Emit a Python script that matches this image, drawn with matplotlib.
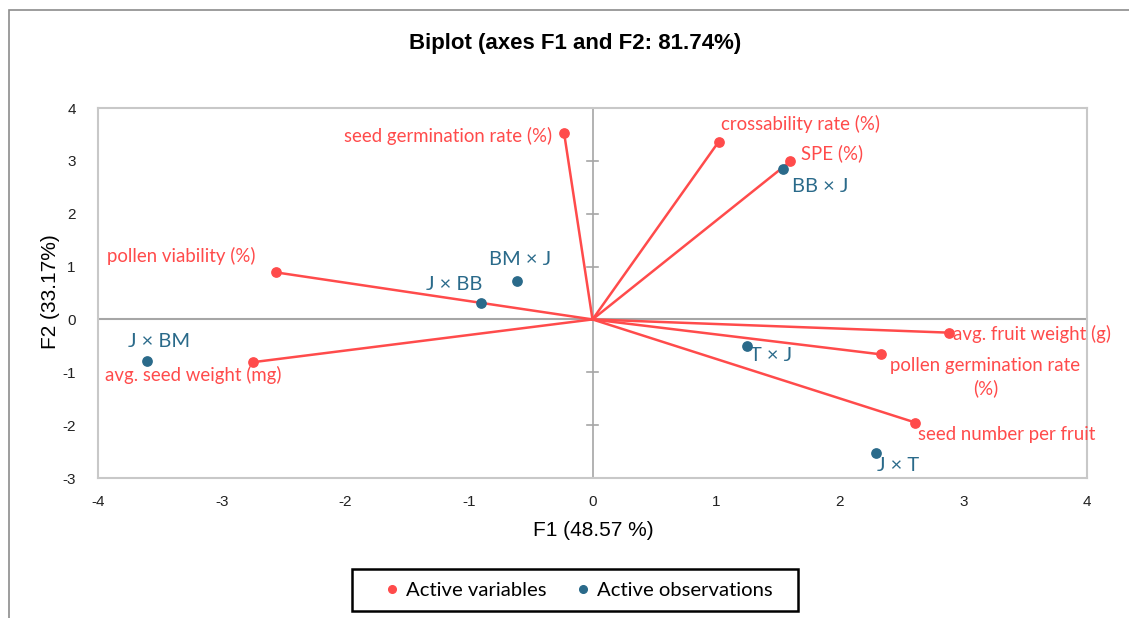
import matplotlib.pyplot as plt
from matplotlib.patches import Rectangle
from matplotlib.lines import Line2D

plt.rcParams['axes.unicode_minus'] = False

# active variables (loadings on F1 / F2)
var_names = ['seed germination rate (%)', 'crossability rate (%)', 'SPE (%)',
             'pollen viability (%)', 'avg. seed weight (mg)', 'avg. fruit weight (g)',
             'pollen germination rate\n(%)', 'seed number per fruit']
var_f1 = [-0.23, 1.02, 1.60, -2.56, -2.75, 2.88, 2.33, 2.61]
var_f2 = [3.53, 3.36, 2.99, 0.89, -0.81, -0.25, -0.66, -1.95]

# active observations
obs_names = ['BB × J', 'BM × J', 'J × BB', 'J × BM', 'T × J', 'J × T']
obs_f1 = [1.54, -0.61, -0.90, -3.60, 1.25, 2.29]
obs_f2 = [2.84, 0.72, 0.32, -0.78, -0.51, -2.53]

xticks = [-4, -3, -2, -1, 0, 1, 2, 3, 4]
yticks = [-3, -2, -1, 0, 1, 2, 3, 4]

# label placement (offset in pixels, ha)
var_lab = [(-12, -3, 'right'), (2, 18, 'left'), (11, 8, 'left'), (-21, 16, 'right'),
           (29, -13, 'right'), (4, -1, 'left'), (105, -23, 'center'), (3, -12, 'left')]
obs_lab = [(9, -17, 'left'), (3, 22, 'center'), (1, 18, 'right'), (12, 19, 'center'),
           (3, -9, 'left'), (1, -12, 'left')]

RED = '#FF4B4B'
BLUE = '#2A6A8A'
GREY = '#A6A6A6'
LABEL_FONT = 'Lato'

fig = plt.figure(figsize=(11.29, 6.18), dpi=100)
ax = fig.add_axes([98 / 1129, 1 - 478 / 618, (1087 - 98) / 1129, (478 - 108) / 618])

# outer chart frame
fig.patches.append(Rectangle((9 / 1129, -0.1), 1.2, 1 - 10 / 618 + 0.1, transform=fig.transFigure,
                             fill=False, edgecolor='#8C8C8C', lw=1.2, clip_on=False))

ax.set_xlim(-4, 4)
ax.set_ylim(-3, 4)
for s in ax.spines.values():
    s.set_color('#C8C8C8')
    s.set_linewidth(1.5)
ax.tick_params(length=0, labelsize=11, colors='#222222')
ax.tick_params(axis='x', pad=12)
ax.tick_params(axis='y', pad=16)
ax.set_xticks(xticks)
ax.set_yticks(yticks)
for lab in ax.get_xticklabels() + ax.get_yticklabels():
    lab.set_fontfamily('Liberation Sans')

# zero lines with small tick marks
ax.axhline(0, color=GREY, lw=1.5, zorder=1)
ax.axvline(0, color=GREY, lw=1.2, zorder=1)
for t in yticks:
    ax.plot([-0.045, 0.045], [t, t], color=GREY, lw=1.2, zorder=1)

# variable arrows
for x, y in zip(var_f1, var_f2):
    ax.plot([0, x], [0, y], color=RED, lw=1.8, zorder=2)
ax.scatter(var_f1, var_f2, s=45, color=RED, zorder=3)
ax.scatter(obs_f1, obs_f2, s=45, color=BLUE, zorder=3)

for name, x, y, (dx, dy, ha) in zip(var_names, var_f1, var_f2, var_lab):
    ax.annotate(name, (x, y), xytext=(dx, dy), textcoords='offset pixels', ha=ha, va='center',
                color=RED, fontsize=13.4, family=LABEL_FONT, multialignment='center',
                linespacing=1.35, annotation_clip=False)
for name, x, y, (dx, dy, ha) in zip(obs_names, obs_f1, obs_f2, obs_lab):
    ax.annotate(name, (x, y), xytext=(dx, dy), textcoords='offset pixels', ha=ha, va='center',
                color=BLUE, fontsize=14.4, family=LABEL_FONT)

fig.text(593 / 1129, 1 - 531 / 618, 'F1 (48.57 %)', ha='center', va='center',
         fontsize=15, family='Liberation Sans')
fig.text(51 / 1129, 1 - 292 / 618, 'F2 (33.17%)', ha='center', va='center', rotation=90,
         fontsize=15, family='Liberation Sans')
fig.text(575 / 1129, 1 - 43 / 618, 'Biplot (axes F1 and F2: 81.74%)', ha='center', va='center',
         fontsize=16, fontweight='bold', family='Liberation Sans')

handles = [Line2D([], [], marker='o', ls='', color=RED, markersize=5.5, label='Active variables'),
           Line2D([], [], marker='o', ls='', color=BLUE, markersize=5.5, label='Active observations')]
leg = fig.legend(handles=handles, loc='center', bbox_to_anchor=(577 / 1129, 1 - 590 / 618), ncol=2,
                 frameon=False, handletextpad=0.2, columnspacing=1.3,
                 prop={'family': LABEL_FONT, 'size': 14.6}, borderpad=0.4, handlelength=1.0,
                 borderaxespad=0)
# legend box
fig.patches.append(Rectangle((352 / 1129, 1 - 611 / 618), 446 / 1129, 42 / 618,
                             transform=fig.transFigure, fill=False, edgecolor='black', lw=1.8))

fig.savefig('out.png', dpi=100)
